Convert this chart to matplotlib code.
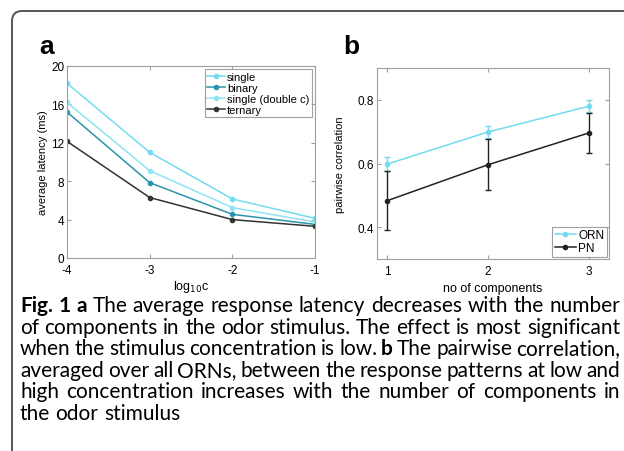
import matplotlib
matplotlib.use("Agg")
import matplotlib.pyplot as plt
from matplotlib.path import Path
from matplotlib.patches import PathPatch
from matplotlib.lines import Line2D

# ---- panel a: average latency vs concentration ----
log_conc = [-4, -3, -2, -1]
lat_single = [18.2, 11.0, 6.15, 4.13]
lat_binary = [15.2, 7.85, 4.55, 3.5]
lat_single_double = [16.2, 9.1, 5.25, 3.75]
lat_ternary = [12.15, 6.3, 4.0, 3.3]
lat_ticks = [0, 4, 8, 12, 16, 20]

# ---- panel b: pairwise correlation vs number of components ----
n_components = [1, 2, 3]
orn_corr = [0.598, 0.699, 0.780]
orn_err = [0.021, 0.020, 0.018]
pn_corr = [0.483, 0.596, 0.696]
pn_err = [0.093, 0.080, 0.062]
corr_ticks = [0.4, 0.6, 0.8]

W, H = 624, 452
fig = plt.figure(figsize=(W / 100, H / 100), dpi=100)
fig.patch.set_facecolor("white")
plt.rcParams["font.family"] = ["Liberation Sans", "DejaVu Sans"]

box_col = "#a0a0a0"


def matlab_axes(ax):
    for s in ax.spines.values():
        s.set_color(box_col)
        s.set_linewidth(0.8)
    ax.tick_params(direction="in", top=True, right=True, length=3,
                   color=box_col, labelsize=8.5, labelcolor="black", pad=2)


# panel a
axa = fig.add_axes([67 / W, 1 - 259 / H, 248 / W, 192 / H])
c_single = "#72dbef"
c_double = "#8fe3f3"
c_binary = "#2b93ab"
c_ternary = "#333333"
kw = dict(marker="o", markersize=3, linewidth=1.1)
axa.plot(log_conc, lat_single, color=c_single, label="single", **kw)
axa.plot(log_conc, lat_binary, color=c_binary, label="binary", **kw)
axa.plot(log_conc, lat_single_double, color=c_double, label="single (double c)", **kw)
axa.plot(log_conc, lat_ternary, color=c_ternary, label="ternary", **kw)
axa.set_xlim(-4, -1)
axa.set_ylim(0, 20)
axa.set_xticks(log_conc)
axa.set_xticklabels([str(v) for v in log_conc])
axa.set_yticks(lat_ticks)
matlab_axes(axa)
axa.tick_params(axis="x", pad=4)
axa.set_xlabel("log$_{10}$c", fontsize=9, labelpad=2)
axa.set_ylabel("average latency (ms)", fontsize=8, labelpad=2)
leg = axa.legend(loc="upper right", fontsize=8, frameon=True, fancybox=False,
                 borderpad=0.2, labelspacing=0.1, handlelength=1.6,
                 handletextpad=0.2, borderaxespad=0.3)
leg.get_frame().set_edgecolor("#888888")
leg.get_frame().set_linewidth(0.8)

# panel b
axb = fig.add_axes([377 / W, 1 - 260 / H, 232 / W, 191 / H])
c_orn = "#72dbef"
c_pn = "#222222"
axb.errorbar(n_components, orn_corr, yerr=orn_err, color=c_orn, marker="o",
             markersize=3, linewidth=1.1, elinewidth=1.0, capsize=2.5)
axb.errorbar(n_components, pn_corr, yerr=pn_err, color=c_pn, marker="o",
             markersize=3, linewidth=1.1, elinewidth=1.0, capsize=2.5)
axb.set_xlim(0.9, 3.2)
axb.set_ylim(0.3, 0.9)
axb.set_xticks(n_components)
axb.set_yticks(corr_ticks)
axb.set_yticklabels(["0.4", "0.6", "0.8"])
matlab_axes(axb)
axb.tick_params(axis="x", pad=4)
axb.set_xlabel("no of components", fontsize=9, labelpad=4)
axb.set_ylabel("pairwise correlation", fontsize=8, labelpad=9)
handles = [Line2D([], [], color=c_orn, marker="o", markersize=3, linewidth=1.1),
           Line2D([], [], color=c_pn, marker="o", markersize=3, linewidth=1.1)]
legb = axb.legend(handles, ["ORN", "PN"], loc="lower right", fontsize=8.5,
                  frameon=True, fancybox=False, borderpad=0.2, labelspacing=0.1,
                  handlelength=1.8, handletextpad=0.2, borderaxespad=0.2)
legb.get_frame().set_edgecolor("#888888")
legb.get_frame().set_linewidth(0.8)

# panel letters
fig.text(39 / W, 1 - 47 / H, "a", fontsize=19, fontweight="bold", va="center", ha="left")
fig.text(343 / W, 1 - 47 / H, "b", fontsize=19, fontweight="bold", va="center", ha="left")

# rounded frame at top-left
x0, y0, r = 12, 12, 10
verts = [(x0 / W, 1 - 452 / H), (x0 / W, 1 - (y0 + r) / H),
         (x0 / W, 1 - y0 / H), ((x0 + r) / W, 1 - y0 / H),
         (1.0, 1 - y0 / H)]
codes = [Path.MOVETO, Path.LINETO, Path.CURVE3, Path.CURVE3, Path.LINETO]
fig.patches.append(PathPatch(Path(verts, codes), transform=fig.transFigure,
                             fill=False, edgecolor="#555555", linewidth=1.4))

# caption with justified lines and bold segments
cap_font = "Lato"
cap_size = 15
lines = [
    ([("Fig. 1 a", True), ("The average response latency decreases with the number", False)], True),
    ([("of components in the odor stimulus. The effect is most significant", False)], True),
    ([("when the stimulus concentration is low.", False), ("b", True), ("The pairwise correlation,", False)], True),
    ([("averaged over all ORNs, between the response patterns at low and", False)], True),
    ([("high concentration increases with the number of components in", False)], True),
    ([("the odor stimulus", False)], False),
]
left_px, right_px = 20, 620
top_y = 306
line_h = 21.6

renderer = fig.canvas.get_renderer()
sp = fig.text(0, 0, "a a", fontsize=cap_size, family=cap_font)
a_t = fig.text(0, 0, "aa", fontsize=cap_size, family=cap_font)
sp_w = sp.get_window_extent(renderer).width - a_t.get_window_extent(renderer).width
sp.remove()
a_t.remove()

for i, (segs, justify) in enumerate(lines):
    words = []
    for txt, bold in segs:
        for w in txt.split():
            words.append((w, bold))
    artists = []
    widths = []
    for w, bold in words:
        t = fig.text(0, 0, w, fontsize=cap_size, family=cap_font,
                     fontweight="bold" if bold else "normal", va="center", ha="left")
        widths.append(t.get_window_extent(renderer).width)
        artists.append(t)
    total = sum(widths)
    if justify and len(words) > 1:
        gap = (right_px - left_px - total) / (len(words) - 1)
    else:
        gap = sp_w
    x = left_px
    y = top_y + i * line_h
    for t, w in zip(artists, widths):
        t.set_position((x / W, 1 - y / H))
        x += w + gap

fig.savefig("out.png", dpi=100)
